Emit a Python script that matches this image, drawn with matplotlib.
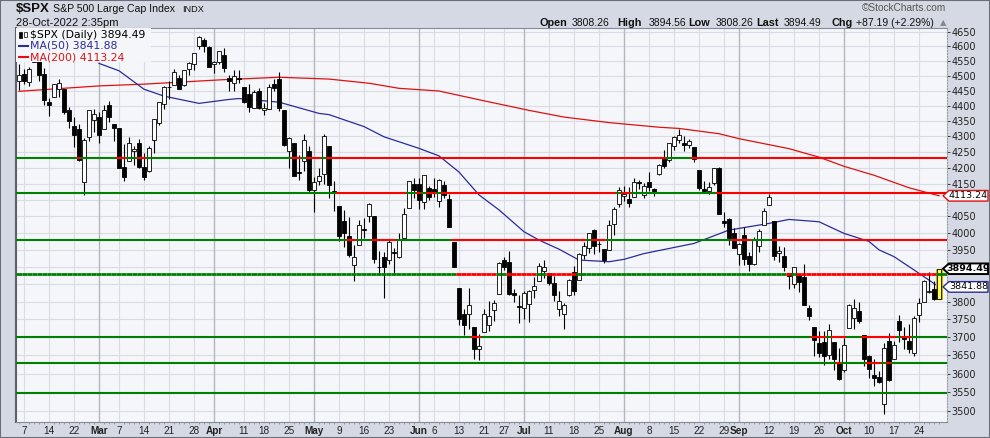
import numpy as np
import pandas as pd
import matplotlib
matplotlib.use('Agg')
import matplotlib.pyplot as plt
from matplotlib.patches import Rectangle, Polygon
from matplotlib.collections import LineCollection
from matplotlib.ticker import FixedLocator, NullLocator, FuncFormatter

# Trading days on the chart: Feb 4 - Oct 28 2022, market holidays taken out
holidays = ['2022-02-21', '2022-04-15', '2022-05-30', '2022-06-20', '2022-07-04', '2022-09-05']
days = [d for d in pd.bdate_range('2022-02-04', '2022-10-28') if d.strftime('%Y-%m-%d') not in holidays]
day_index = {d.strftime('%Y-%m-%d'): i for i, d in enumerate(days)}

# Daily OHLC (one row per month)
opens = [4483, 4506, 4480, 4547, 4553, 4506, 4413, 4429, 4456, 4456, 4385, 4333, 4325, 4156, 4298, 4354,
         4363, 4323, 4401, 4342, 4327, 4203, 4223, 4253, 4280, 4203, 4189, 4288, 4345, 4407, 4462, 4469, 4493, 4470, 4523, 4541, 4603, 4624, 4599,
         4540, 4548, 4572, 4494, 4475, 4494, 4463, 4438, 4394, 4449, 4386, 4391, 4472, 4489, 4386, 4255, 4278, 4187, 4223, 4254,
         4131, 4160, 4181, 4270, 4128, 4081, 4035, 3990, 3904, 3964, 4013, 4052, 4052, 3899, 3928, 3919, 3943, 3930, 3985, 4077, 4151,
         4150, 4095, 4138, 4135, 4096, 4147, 4102, 3974, 3838, 3764, 3764, 3728, 3666, 3715, 3734, 3775, 3822, 3921, 3913, 3825, 3786,
         3781, 3793, 3832, 3859, 3888, 3881, 3852, 3780, 3764, 3818, 3884, 3861, 3935, 3955, 4008, 3966, 3953, 3951, 4026, 4087,
         4112, 4104, 4108, 4155, 4116, 4156, 4133, 4181, 4227, 4225, 4269, 4290, 4280, 4273, 4266, 4195, 4133, 4127, 4153, 4199, 4035, 4041, 4001,
         3937, 3995, 3931, 3909, 3960, 4023, 4084, 4037, 3941, 3932, 3881, 3850, 3875, 3871, 3782, 3727, 3683, 3686, 3652, 3687, 3633,
         3610, 3726, 3753, 3772, 3707, 3648, 3596, 3591, 3520, 3690, 3639, 3746, 3703, 3689, 3657, 3762, 3799, 3826, 3835, 3808.26]
highs = [4540, 4522, 4531, 4590, 4589, 4526, 4426, 4473, 4490, 4456, 4395, 4362, 4342, 4295, 4385, 4389,
         4378, 4401, 4417, 4342, 4327, 4277, 4299, 4268, 4291, 4248, 4271, 4358, 4413, 4465, 4482, 4522, 4501, 4521, 4546, 4576, 4637, 4628, 4603,
         4549, 4584, 4593, 4504, 4521, 4520, 4464, 4471, 4454, 4460, 4410, 4471, 4488, 4513, 4386, 4299, 4278, 4241, 4308, 4270,
         4170, 4200, 4308, 4270, 4158, 4081, 4069, 4049, 3965, 4039, 4046, 4091, 4052, 3946, 3943, 3982, 3956, 3999, 4075, 4158, 4168,
         4167, 4178, 4143, 4169, 4165, 4160, 4119, 3974, 3838, 3778, 3838, 3728, 3708, 3780, 3802, 3803, 3914, 3928, 3946, 3837, 3819,
         3830, 3832, 3871, 3911, 3919, 3881, 3873, 3829, 3796, 3864, 3902, 3940, 3974, 3999, 4012, 3975, 3953, 4040, 4079, 4140,
         4145, 4140, 4168, 4161, 4152, 4187, 4137, 4211, 4258, 4280, 4302, 4325, 4302, 4293, 4266, 4195, 4160, 4157, 4201, 4203, 4063, 4045, 4015,
         3970, 4018, 3943, 3988, 4011, 4077, 4119, 4037, 3962, 3959, 3881, 3900, 3876, 3907, 3791, 3727, 3716, 3718, 3737, 3687, 3671,
         3698, 3792, 3807, 3798, 3707, 3652, 3641, 3608, 3685, 3712, 3690, 3763, 3729, 3736, 3758, 3811, 3863, 3886, 3860, 3894.56]
lows = [4452, 4471, 4465, 4547, 4484, 4401, 4365, 4429, 4430, 4374, 4327, 4267, 4222, 4115, 4287, 4315,
        4280, 4323, 4346, 4285, 4200, 4158, 4223, 4210, 4200, 4162, 4188, 4246, 4336, 4391, 4424, 4469, 4456, 4465, 4501, 4518, 4590, 4581, 4530,
        4508, 4539, 4514, 4450, 4450, 4475, 4408, 4381, 4393, 4391, 4370, 4391, 4449, 4384, 4268, 4201, 4175, 4163, 4189, 4124,
        4063, 4147, 4149, 4106, 4068, 3975, 3958, 3929, 3859, 3964, 3984, 4034, 3912, 3877, 3810, 3909, 3875, 3925, 3985, 4077, 4105,
        4074, 4074, 4099, 4109, 4080, 4107, 4017, 3900, 3734, 3706, 3722, 3640, 3637, 3715, 3718, 3744, 3822, 3890, 3820, 3799, 3739,
        3752, 3742, 3809, 3859, 3869, 3847, 3802, 3759, 3722, 3817, 3819, 3861, 3922, 3940, 3938, 3943, 3911, 3951, 3993, 4079,
        4096, 4080, 4108, 4135, 4107, 4129, 4112, 4177, 4201, 4220, 4257, 4278, 4253, 4262, 4219, 4130, 4124, 4120, 4148, 4058, 4017, 3965, 3955,
        3904, 3906, 3887, 3906, 3945, 4023, 4084, 3921, 3913, 3888, 3837, 3839, 3828, 3789, 3749, 3647, 3645, 3623, 3641, 3610, 3584,
        3605, 3726, 3723, 3739, 3621, 3588, 3568, 3574, 3492, 3580, 3639, 3687, 3667, 3656, 3647, 3742, 3799, 3824, 3804, 3808.26]
closes = [4501, 4484, 4522, 4587, 4504, 4419, 4402, 4471, 4475, 4380, 4349, 4305, 4226, 4289, 4385, 4374,
          4306, 4387, 4363, 4329, 4201, 4171, 4278, 4260, 4204, 4173, 4262, 4358, 4412, 4463, 4461, 4512, 4456, 4520, 4543, 4576, 4632, 4602, 4530,
          4546, 4583, 4525, 4481, 4500, 4488, 4413, 4397, 4447, 4393, 4392, 4462, 4459, 4394, 4272, 4296, 4175, 4184, 4288, 4132,
          4155, 4175, 4300, 4147, 4123, 3991, 4001, 3935, 3930, 4024, 4008, 4089, 3924, 3901, 3901, 3974, 3941, 3979, 4058, 4158, 4132,
          4101, 4177, 4109, 4121, 4161, 4116, 4018, 3901, 3750, 3735, 3790, 3667, 3675, 3765, 3760, 3796, 3912, 3900, 3822, 3819, 3785,
          3825, 3831, 3845, 3903, 3899, 3854, 3819, 3802, 3790, 3863, 3831, 3937, 3960, 3999, 3962, 3967, 3921, 4024, 4072, 4130,
          4119, 4091, 4155, 4152, 4145, 4140, 4122, 4210, 4207, 4280, 4297, 4305, 4274, 4284, 4228, 4138, 4129, 4141, 4199, 4058, 4031, 3986, 3955,
          3967, 3924, 3908, 3980, 4006, 4067, 4110, 3933, 3946, 3901, 3873, 3900, 3856, 3790, 3758, 3693, 3655, 3647, 3719, 3640, 3586,
          3678, 3791, 3783, 3745, 3640, 3612, 3589, 3577, 3670, 3583, 3678, 3720, 3695, 3666, 3753, 3797, 3859, 3831, 3807, 3894.49]

# Moving averages
ma50_dates = ['2022-03-01', '2022-03-07', '2022-03-14', '2022-03-18', '2022-03-29', '2022-04-06', '2022-04-08',
              '2022-04-21', '2022-05-03', '2022-05-05', '2022-05-16', '2022-05-20', '2022-06-01', '2022-06-07',
              '2022-06-13', '2022-06-17', '2022-06-24', '2022-07-01', '2022-07-07', '2022-07-13', '2022-07-19',
              '2022-07-27', '2022-08-01', '2022-08-05', '2022-08-10', '2022-08-19', '2022-08-30', '2022-09-12',
              '2022-09-16', '2022-09-26', '2022-10-03', '2022-10-10', '2022-10-12', '2022-10-17', '2022-10-21', '2022-10-28']
ma50_vals = [4542, 4517, 4455, 4432, 4408, 4421, 4424, 4412, 4375, 4371, 4332, 4299, 4262, 4238, 4187, 4116, 4070, 4004,
             3979, 3952, 3920, 3915, 3922, 3939, 3948, 3969, 4009, 4029, 4041, 4034, 3999, 3975, 3950, 3930, 3891, 3841.88]
ma200_dates = ['2022-02-04', '2022-03-01', '2022-03-14', '2022-04-05', '2022-04-21', '2022-05-05', '2022-05-17',
               '2022-05-25', '2022-06-07', '2022-06-17', '2022-07-05', '2022-07-14', '2022-07-27', '2022-08-10',
               '2022-08-16', '2022-08-26', '2022-09-01', '2022-09-16', '2022-09-26', '2022-10-03', '2022-10-11',
               '2022-10-20', '2022-10-28']
ma200_vals = [4448, 4466, 4472, 4487, 4495, 4489, 4475, 4458, 4449, 4420, 4385, 4363, 4345, 4330, 4326, 4309, 4293,
              4261, 4234, 4205, 4177, 4138, 4113.24]

# Horizontal support / resistance levels
levels = [4232, 4122, 3979, 3880, 3701, 3630, 3549]

# Date axis labels
label_dates = ['2022-02-07', '2022-02-14', '2022-02-22', '2022-03-01', '2022-03-07', '2022-03-14', '2022-03-21',
               '2022-03-28', '2022-04-01', '2022-04-11', '2022-04-18', '2022-04-25', '2022-05-02', '2022-05-09',
               '2022-05-16', '2022-05-23', '2022-06-01', '2022-06-06', '2022-06-13', '2022-06-21', '2022-06-27',
               '2022-07-01', '2022-07-11', '2022-07-18', '2022-07-25', '2022-08-01', '2022-08-08', '2022-08-15',
               '2022-08-22', '2022-08-29', '2022-09-01', '2022-09-12', '2022-09-19', '2022-09-26', '2022-10-03',
               '2022-10-10', '2022-10-17', '2022-10-24']
label_text = ['7', '14', '22', 'Mar', '7', '14', '21', '28', 'Apr', '11', '18', '25', 'May', '9', '16', '23',
              'Jun', '6', '13', '21', '27', 'Jul', '11', '18', '25', 'Aug', '8', '15', '22', '29', 'Sep', '12',
              '19', '26', 'Oct', '10', '17', '24']
price_ticks = list(range(3500, 4651, 50))
hidden_ticks = [4100, 3900, 3850]  # sit under the value tags

W, H = 990.0, 438.0
n = len(days)
xlo, xhi = -0.6, n + 0.6

fig = plt.figure(figsize=(W / 100, H / 100), dpi=100, facecolor='#d5d9e3')
ax = fig.add_axes([16 / W, 1 - 422.3 / H, 931 / W, 394.3 / H])
ax.set_facecolor('#f4f6fa')
ax.set_yscale('log')
ax.set_xlim(xlo, xhi)
ax.set_ylim(3471.4, 4664)

# grid
for p in price_ticks:
    ax.axhline(p, color='#d9dce4', lw=0.8, zorder=0.5)
for d, t in zip(label_dates, label_text):
    month = t.isalpha()
    ax.axvline(day_index[d], color='#b4b7c0' if month else '#d9dce4', lw=1.0 if month else 0.8, zorder=0.5)

# moving averages
ax.plot([day_index[d] for d in ma200_dates], ma200_vals, color='#e01010', lw=0.9, zorder=1.5)
ax.plot([day_index[d] for d in ma50_dates], ma50_vals, color='#2b2b9a', lw=0.9, zorder=1.5)

# candles
x = np.arange(n)
ax.vlines(x, lows, highs, color='black', lw=0.8, zorder=3)
bw = 0.72
for i in range(n):
    o, c = opens[i], closes[i]
    face = 'white' if c >= o else 'black'
    if i == n - 1:
        ax.add_patch(Rectangle((i - 0.6, lows[i]), 1.2, highs[i] - lows[i], fc='#ffff50', ec='#c8b400',
                               lw=0.8, zorder=2.5))
        face = '#ffff50'
    ax.add_patch(Rectangle((i - bw / 2, min(o, c)), bw, max(abs(c - o), 1.5), fc=face, ec='black',
                           lw=0.6, zorder=4))

# level lines: green where the close is at/above the level, red where below
for lvl in levels:
    segs, cols = [], []
    for i in range(n):
        x0 = i - 0.5 if i > 0 else xlo
        x1 = i + 0.5 if i < n - 1 else xhi
        segs.append([(x0, lvl), (x1, lvl)])
        cols.append('#008000' if closes[i] >= lvl else '#ff0000')
    lw = 2.0 if lvl == 3880 else 1.5
    ax.add_collection(LineCollection(segs, colors=cols, linewidths=lw, zorder=5, capstyle='butt'))

# axes styling
ax.yaxis.tick_right()
ax.yaxis.set_major_locator(FixedLocator(price_ticks))
ax.yaxis.set_minor_locator(NullLocator())
ax.yaxis.set_major_formatter(FuncFormatter(lambda v, p: '' if round(v) in hidden_ticks else '%d' % round(v)))
ax.tick_params(axis='y', which='major', length=2, pad=1, labelsize=7, colors='#222222', width=0.6)
ax.set_xticks([day_index[d] for d in label_dates])
ax.set_xticklabels(label_text)
for lab, t in zip(ax.get_xticklabels(), label_text):
    lab.set_fontfamily('Liberation Sans')
    lab.set_fontsize(7.2)
    if t.isalpha():
        lab.set_fontweight('bold')
ax.set_xticks(x, minor=True)
ax.tick_params(axis='x', which='major', length=0, pad=2.5, colors='#222222')
ax.tick_params(axis='x', which='minor', length=1.5, width=0.5, color='#888888')
for s in ['top', 'bottom']:
    ax.spines[s].set_color('#868a96')
ax.spines['left'].set_color('#5c606c')
ax.spines['left'].set_linewidth(1.5)
ax.spines['right'].set_color('#9a9ea8')
ax.spines['right'].set_linestyle(':')

# legend box in the top left corner
ax.add_patch(Rectangle((16 / W, 1 - 62 / H), 135 / W, 34 / H, transform=fig.transFigure, fc='#f4f6fa',
                       ec='none', zorder=8))
fig.patches.append(Rectangle((19 / W, 1 - 38 / H), 3 / W, 6 / H, transform=fig.transFigure, fc='black', ec='black',
                             lw=0.5, zorder=9))
fig.patches.append(Rectangle((24 / W, 1 - 37 / H), 3 / W, 5 / H, transform=fig.transFigure, fc='white', ec='black',
                             lw=0.5, zorder=9))
fig.lines.append(plt.Line2D([19 / W, 28 / W], [1 - 46 / H, 1 - 46 / H], transform=fig.transFigure,
                            color='#2b2b9a', lw=1.5, zorder=9))
fig.lines.append(plt.Line2D([19 / W, 28 / W], [1 - 57 / H, 1 - 57 / H], transform=fig.transFigure,
                            color='#e01010', lw=1.5, zorder=9))
legend_rows = [('$SPX (Daily) 3894.49', 35, 'black'), ('MA(50) 3841.88', 46, '#2b2b9a'),
               ('MA(200) 4113.24', 57, '#e01010')]
for s, yy, col in legend_rows:
    fig.text(30 / W, 1 - yy / H, s, color=col, fontsize=7.8, va='center', ha='left', zorder=10)


def ftext(px, py, s, **kw):
    fig.text(px / W, 1 - py / H, s, va='center', **kw)


# header
ftext(16, 8.5, '$SPX', fontsize=9.5, fontweight='bold', family='Liberation Sans', color='#111111')
ftext(53, 9, 'S&P 500 Large Cap Index', fontsize=7.6, family='Liberation Sans', color='#111111')
ftext(182, 9, 'INDX', fontsize=6.6, family='Liberation Sans', color='#111111')
ftext(16, 23, '28-Oct-2022 2:35pm', fontsize=8, family='Liberation Sans', color='#111111')
ftext(946, 8.3, '\u00a9StockCharts.com', fontsize=7.3, family='Liberation Sans', color='#555555', ha='right')
quote = [(540, 'Open', True), (572, '3808.26', False), (617, 'High', True), (649, '3894.56', False),
         (688, 'Low', True), (716, '3808.26', False), (756, 'Last', True), (784, '3894.49', False),
         (832, 'Chg', True), (856, '+87.19 (+2.29%)', False)]
for px, s, bold in quote:
    ftext(px, 22.5, s, fontsize=7.8 if bold else 7.5, fontweight='bold' if bold else 'normal',
          family='Liberation Sans', color='#111111', ha='left')
ftext(940, 22.5, '\u25b2', fontsize=6, color='#888888', ha='left')


# value tags on the right axis
def tag(value, text, edge, bold=False, lw=1.0):
    ypx = ax.transData.transform((0, value))[1]
    yf = ypx / H
    hh = 5.3 / H
    pts = [(943 / W, yf), (949 / W, yf + hh), (988 / W, yf + hh), (988 / W, yf - hh), (949 / W, yf - hh)]
    fig.patches.append(Polygon(pts, closed=True, transform=fig.transFigure, fc='white', ec=edge, lw=lw, zorder=11))
    fig.text(968.5 / W, yf, text, fontsize=6.8, fontweight='bold' if bold else 'normal', ha='center', va='center',
             color='black', zorder=12)


tag(ma200_vals[-1], '4113.24', '#e01010')
tag(closes[-1], '3894.49', 'black', bold=True, lw=1.4)
tag(ma50_vals[-1], '3841.88', '#2b2b9a')

# outer frame
fig.patches.append(Rectangle((0, 0), 1, 1, transform=fig.transFigure, fill=False, ec='#6a6e7a', lw=1.5, zorder=20))

fig.savefig('out.png', dpi=100, facecolor=fig.get_facecolor())
